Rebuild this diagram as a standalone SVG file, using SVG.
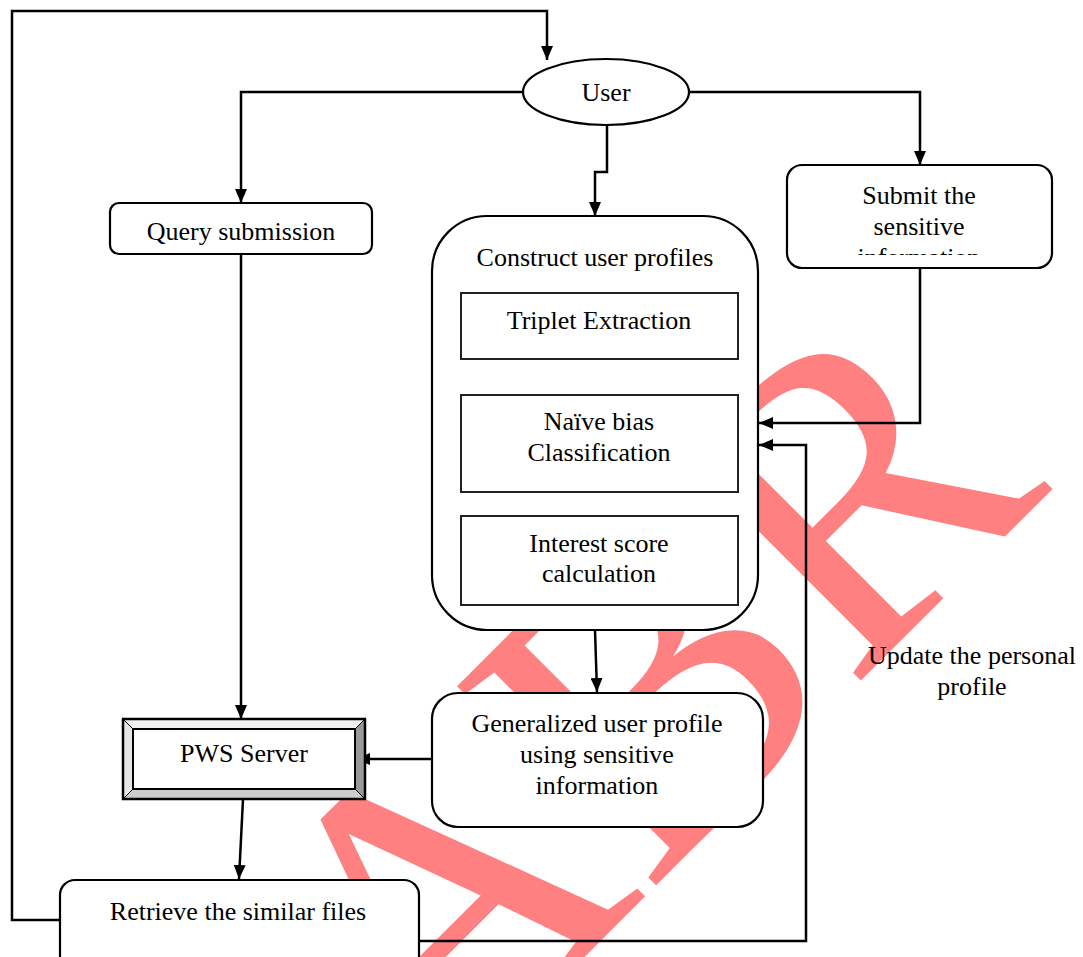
<svg xmlns="http://www.w3.org/2000/svg" width="1083" height="957" viewBox="0 0 1083 957">
<style>
.t{font-family:"Liberation Serif","Times New Roman",serif;font-size:26px;text-anchor:middle;fill:#000}
.box{fill:#fff;stroke:#000;stroke-width:2.2}
.inner{fill:#fff;stroke:#222;stroke-width:2}
.c{fill:none;stroke:#000;stroke-width:2.5}
.wm{font-family:"Liberation Serif","Times New Roman",serif;font-size:430px;fill:#ff8080}
</style>
<defs>
<marker id="ah" viewBox="0 0 14 12" refX="14" refY="6" markerWidth="14" markerHeight="12" orient="auto" markerUnits="userSpaceOnUse">
<path d="M0,0 L14,6 L0,12 z" fill="#000"/>
</marker>
<clipPath id="subclip"><rect x="787" y="165" width="265" height="90"/></clipPath>
</defs>
<rect width="1083" height="957" fill="#fff"/>
<g id="watermark">
<text class="wm" transform="rotate(-45)" x="-485" y="1090">ABR</text>
</g>
<g id="connectors">
<path class="c" d="M60,920 H12 V11 H547 V60" marker-end="url(#ah)"/>
<path class="c" d="M523,92 H241 V203" marker-end="url(#ah)"/>
<path class="c" d="M689,92 H920 V165" marker-end="url(#ah)"/>
<path class="c" d="M607,125 V172 H595 V216" marker-end="url(#ah)"/>
<path class="c" d="M241,254 V719" marker-end="url(#ah)"/>
<path class="c" d="M920,268 V423 H759" marker-end="url(#ah)"/>
<path class="c" d="M419,941 H806 V445 H759" marker-end="url(#ah)"/>
<path class="c" d="M595,630 L597,692" marker-end="url(#ah)"/>
<path class="c" d="M432,759 H356" marker-end="url(#ah)"/>
<path class="c" d="M243,799 L239,879" marker-end="url(#ah)"/>
</g>
<g id="user">
<ellipse class="box" cx="606" cy="92" rx="83" ry="33"/>
<text class="t" x="606" y="101">User</text>
</g>
<g id="query">
<rect class="box" x="110" y="203" width="262" height="51" rx="9"/>
<text class="t" x="241" y="240">Query submission</text>
</g>
<g id="submit">
<rect class="box" x="787" y="165" width="265" height="103" rx="15"/>
<g clip-path="url(#subclip)">
<text class="t" x="919" y="204">Submit the</text>
<text class="t" x="919" y="235">sensitive</text>
<text class="t" x="919" y="266">information</text>
</g>
</g>
<g id="construct">
<rect class="box" x="432" y="216" width="326" height="414" rx="55"/>
<text class="t" x="595" y="266">Construct user profiles</text>
</g>
<g id="triplet">
<rect class="inner" x="461" y="293" width="277" height="66"/>
<text class="t" x="599" y="329">Triplet Extraction</text>
</g>
<g id="naive">
<rect class="inner" x="461" y="395" width="277" height="97"/>
<text class="t" x="599" y="430">Naïve bias</text>
<text class="t" x="599" y="461">Classification</text>
</g>
<g id="interest">
<rect class="inner" x="461" y="516" width="277" height="89"/>
<text class="t" x="599" y="552">Interest score</text>
<text class="t" x="599" y="582">calculation</text>
</g>
<g id="generalized">
<rect class="box" x="432" y="693" width="331" height="134" rx="26"/>
<text class="t" x="597" y="732">Generalized user profile</text>
<text class="t" x="597" y="763">using sensitive</text>
<text class="t" x="597" y="794">information</text>
</g>
<g id="pws">
<rect x="123" y="719" width="242" height="80" fill="#fff" stroke="#000" stroke-width="2"/>
<polygon points="123,719 365,719 355,729 133,729" fill="#f2f2f2" stroke="#000" stroke-width="1"/>
<polygon points="123,719 133,729 133,789 123,799" fill="#e6e6e6" stroke="#000" stroke-width="1"/>
<polygon points="365,719 365,799 355,789 355,729" fill="#999" stroke="#000" stroke-width="1"/>
<polygon points="123,799 133,789 355,789 365,799" fill="#ccc" stroke="#000" stroke-width="1"/>
<rect x="133" y="729" width="222" height="60" fill="#fff" stroke="#000" stroke-width="2"/>
<rect x="123" y="719" width="242" height="80" fill="none" stroke="#000" stroke-width="2.5"/>
<text class="t" x="244" y="762">PWS Server</text>
</g>
<g id="retrieve">
<rect class="box" x="60" y="880" width="359" height="100" rx="15"/>
<text class="t" x="238" y="920">Retrieve the similar files</text>
</g>
<g id="update-label">
<text class="t" x="972" y="664">Update the personal</text>
<text class="t" x="972" y="695">profile</text>
</g>
</svg>
